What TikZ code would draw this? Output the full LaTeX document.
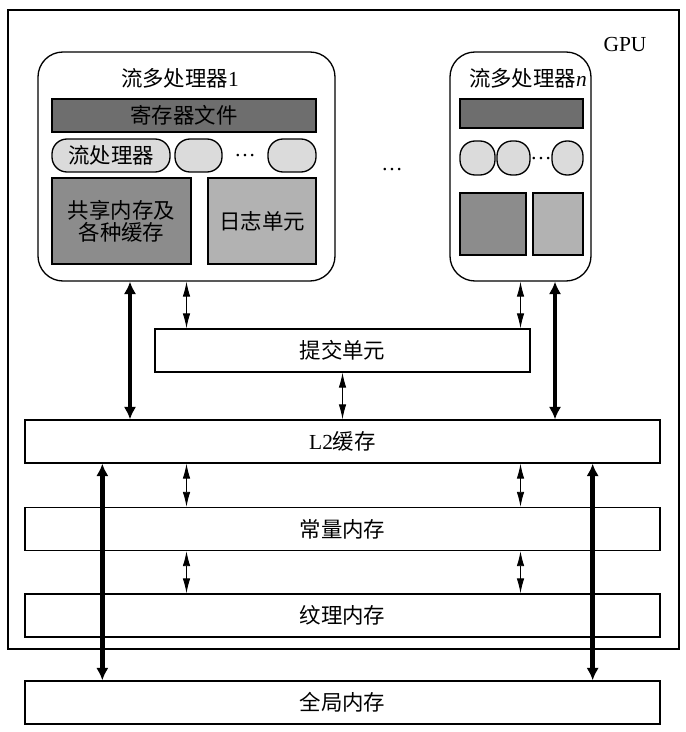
\documentclass[tikz,border=0pt]{standalone}
\usepackage{fontspec}
\setmainfont{Liberation Serif}
\newfontfamily\cjk{Noto Sans CJK SC}
\usepackage{xcolor}
\usepackage{tikz}
\usetikzlibrary{arrows.meta, positioning, calc}

\tikzset{
    misura/.style 2 args={minimum width=#1cm, minimum height=#2cm},
    blocco/.style={draw, line width=0.75pt, inner sep=0pt, font=\cjk\fontsize{12.2}{12.5}\selectfont},
    pillola/.style={blocco, rounded corners=0.3cm, fill=black!14},
    freccia/.style={line width=0.5pt, {Latex[length=3mm,width=1.5mm]}-{Latex[length=3mm,width=1.5mm]}},
    freccione/.style={line width=2.8pt, {Latex[length=2.5mm,width=2.5mm]}-{Latex[length=2.5mm,width=2.5mm]}}
}

\begin{document}
\begin{tikzpicture}[font=\fontsize{12.2}{13}\selectfont]
    \useasboundingbox (0,0) rectangle (13.7,14.64);

    % La GPU
    \node[blocco, misura={13.42}{12.78}] (gpu) at (6.87,8.05) {};
    \node (gpulab) at (12.5,13.74) {GPU};

    % Il primo multiprocessore
    \node[blocco, misura={5.94}{4.58}, rounded corners=0.5cm] (sm1) at (3.73,11.31) {};
    \node (tit1) at (3.6,13.08) {{\cjk 流多处理器}1};
    \node[blocco, misura={5.28}{0.66}, fill=black!57] (reg1) at (3.68,12.33) {寄存器文件};
    \node[pillola, misura={2.36}{0.66}] (sp1a) at (2.22,11.53) {流处理器};
    \node[pillola, misura={0.94}{0.66}] (sp1b) at (3.97,11.53) {};
    \node (dots1) at (4.9,11.53) {\dots};
    \node[pillola, misura={0.96}{0.66}] (sp1c) at (5.84,11.53) {};
    \node[blocco, misura={2.78}{1.72}, fill=black!45, align=center] (smem1) at (2.43,10.22) {共享内存及\\各种缓存};
    \node[blocco, misura={2.16}{1.72}, fill=black!30] (log1) at (5.24,10.22) {日志单元};

    % L'ultimo multiprocessore
    \node[blocco, misura={2.82}{4.58}, rounded corners=0.5cm] (smn) at (10.41,11.31) {};
    \node (titn) at (10.56,13.08) {{\cjk 流多处理器}\textit{n}};
    \node[blocco, misura={2.46}{0.58}, fill=black!57] (regn) at (10.43,12.37) {};
    \node[pillola, misura={0.70}{0.68}] (spna) at (9.55,11.48) {};
    \node[pillola, misura={0.66}{0.68}] (spnb) at (10.27,11.48) {};
    \node[inner sep=0pt] (dotsn) at (10.82,11.46) {\dots};
    \node[pillola, misura={0.62}{0.68}] (spnc) at (11.35,11.48) {};
    \node[blocco, misura={1.32}{1.24}, fill=black!45] (smemn) at (9.86,10.16) {};
    \node[blocco, misura={1.00}{1.24}, fill=black!30] (logn) at (11.16,10.16) {};

    \node (dotsm) at (7.84,11.24) {\dots};

    % Le memorie
    \node[blocco, misura={7.5}{0.86}] (sub) at (6.85,7.63) {提交单元};
    \node[blocco, misura={12.7}{0.86}] (l2) at (6.85,5.81) {{\rmfamily L2}缓存};
    \node[blocco, misura={12.7}{0.86}] (cmem) at (6.85,4.06) {常量内存};
    \node[blocco, misura={12.7}{0.86}] (tmem) at (6.85,2.33) {纹理内存};
    \node[blocco, misura={12.7}{0.86}] (gmem) at (6.85,0.59) {全局内存};

    % Frecce sottili
    \draw[freccia] (sm1.south) -- (sm1.south |- sub.north);
    \draw[freccia] (smn.south) -- (smn.south |- sub.north);
    \draw[freccia] (sub.south) -- (sub.south |- l2.north);
    \draw[freccia] (sm1.south |- l2.south) -- (sm1.south |- cmem.north);
    \draw[freccia] (smn.south |- l2.south) -- (smn.south |- cmem.north);
    \draw[freccia] (sm1.south |- cmem.south) -- (sm1.south |- tmem.north);
    \draw[freccia] (smn.south |- cmem.south) -- (smn.south |- tmem.north);

    % Frecce spesse
    \draw[freccione] ([xshift=-1.13cm]sm1.south) -- ([xshift=-1.13cm]sm1.south |- l2.north);
    \draw[freccione] ([xshift=0.69cm]smn.south) -- ([xshift=0.69cm]smn.south |- l2.north);
    \draw[freccione] ([xshift=1.56cm]l2.south west) -- ([xshift=1.56cm]gmem.north west);
    \draw[freccione] ([xshift=-1.36cm]l2.south east) -- ([xshift=-1.36cm]gmem.north east);

\end{tikzpicture}
\end{document}
